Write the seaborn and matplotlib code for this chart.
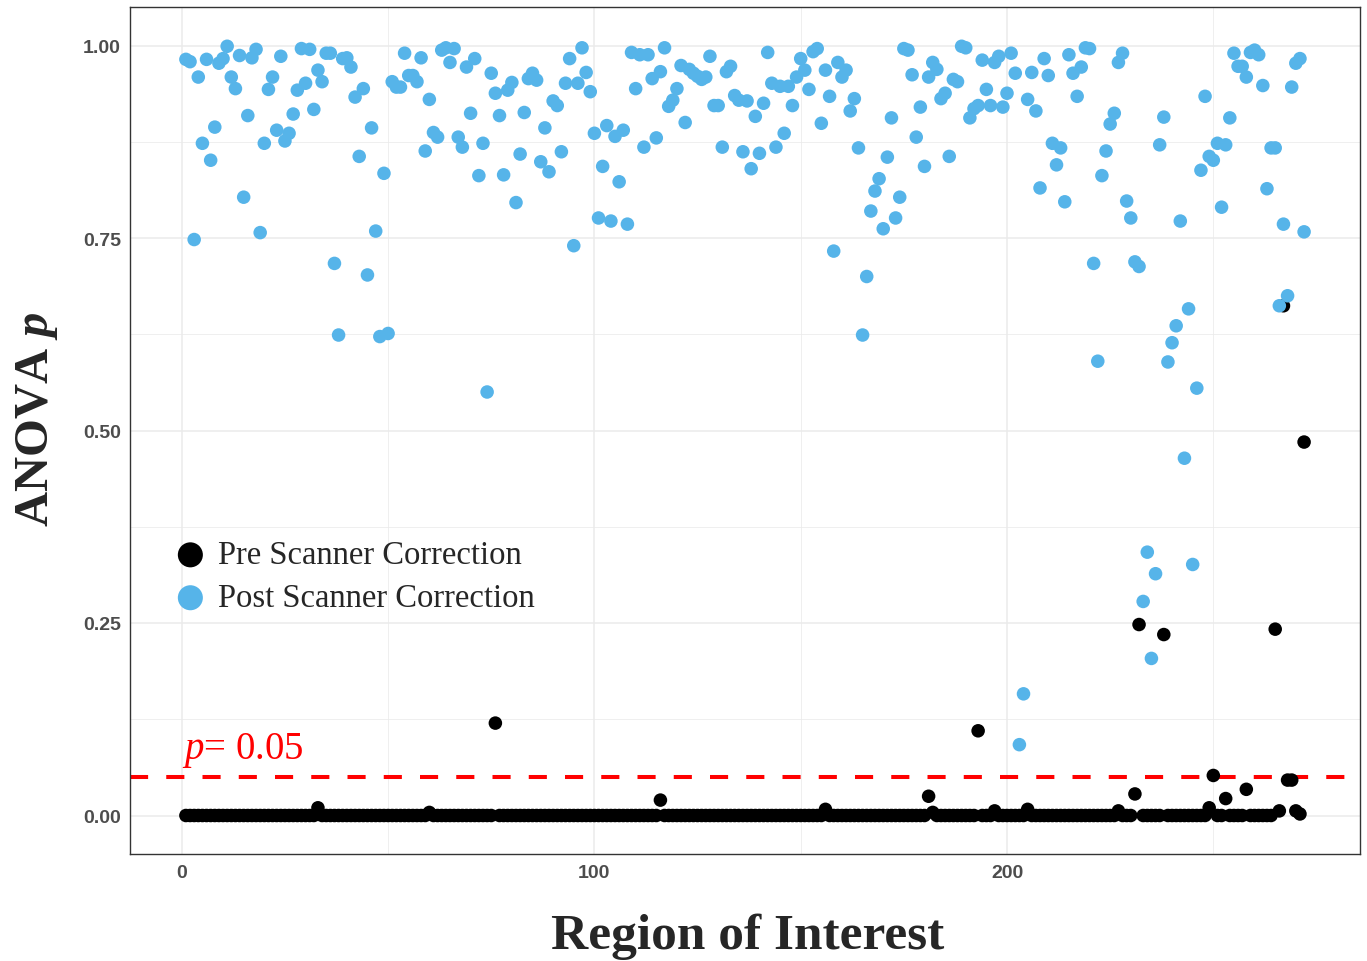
import matplotlib as mpl
import matplotlib.pyplot as plt
import numpy as np
import pandas as pd
import seaborn as sns

# ANOVA p per region (regions 1..272, 16 per row)
post_p = [
    0.982, 0.979, 0.748, 0.959, 0.873, 0.982, 0.851, 0.894, 0.977, 0.983, 0.999, 0.959, 0.944, 0.987, 0.803, 0.909,
    0.984, 0.995, 0.757, 0.873, 0.943, 0.959, 0.890, 0.986, 0.876, 0.886, 0.911, 0.942, 0.996, 0.951, 0.995, 0.917,
    0.968, 0.953, 0.990, 0.990, 0.717, 0.624, 0.983, 0.984, 0.972, 0.933, 0.856, 0.944, 0.702, 0.893, 0.759, 0.622,
    0.834, 0.626, 0.953, 0.946, 0.946, 0.990, 0.961, 0.961, 0.953, 0.984, 0.863, 0.930, 0.887, 0.881, 0.994, 0.997,
    0.978, 0.996, 0.881, 0.868, 0.972, 0.912, 0.983, 0.831, 0.873, 0.550, 0.964, 0.938, 0.909, 0.832, 0.942, 0.952,
    0.796, 0.859, 0.913, 0.957, 0.964, 0.955, 0.849, 0.893, 0.836, 0.928, 0.922, 0.862, 0.951, 0.983, 0.740, 0.951,
    0.997, 0.965, 0.940, 0.886, 0.776, 0.843, 0.896, 0.772, 0.882, 0.823, 0.890, 0.768, 0.991, 0.944, 0.988, 0.868,
    0.988, 0.957, 0.880, 0.966, 0.997, 0.921, 0.929, 0.944, 0.974, 0.900, 0.969, 0.964, 0.960, 0.956, 0.959, 0.986,
    0.922, 0.922, 0.868, 0.966, 0.973, 0.935, 0.929, 0.862, 0.928, 0.840, 0.908, 0.860, 0.925, 0.991, 0.951, 0.868,
    0.947, 0.886, 0.947, 0.922, 0.959, 0.983, 0.968, 0.943, 0.992, 0.996, 0.899, 0.968, 0.934, 0.733, 0.978, 0.959,
    0.968, 0.915, 0.931, 0.867, 0.624, 0.700, 0.785, 0.811, 0.827, 0.762, 0.855, 0.906, 0.776, 0.803, 0.996, 0.994,
    0.962, 0.881, 0.920, 0.843, 0.959, 0.978, 0.969, 0.931, 0.938, 0.856, 0.956, 0.953, 0.999, 0.997, 0.906, 0.918,
    0.922, 0.981, 0.943, 0.922, 0.978, 0.986, 0.920, 0.938, 0.990, 0.964, 0.092, 0.158, 0.930, 0.965, 0.915, 0.815,
    0.983, 0.961, 0.873, 0.845, 0.867, 0.797, 0.988, 0.964, 0.934, 0.972, 0.997, 0.996, 0.717, 0.590, 0.831, 0.863,
    0.898, 0.912, 0.978, 0.990, 0.798, 0.776, 0.719, 0.713, 0.278, 0.342, 0.204, 0.314, 0.871, 0.907, 0.589, 0.614,
    0.636, 0.772, 0.464, 0.658, 0.326, 0.555, 0.838, 0.934, 0.856, 0.851, 0.873, 0.790, 0.871, 0.906, 0.990, 0.973,
    0.973, 0.959, 0.991, 0.994, 0.988, 0.948, 0.814, 0.867, 0.867, 0.662, 0.768, 0.675, 0.946, 0.977, 0.983, 0.758,
]

pre_p = [
    0, 0, 0, 0, 0, 0, 0, 0, 0, 0, 0, 0, 0, 0, 0, 0,
    0, 0, 0, 0, 0, 0, 0, 0, 0, 0, 0, 0, 0, 0, 0, 0,
    0.010, 0, 0, 0, 0, 0, 0, 0, 0, 0, 0, 0, 0, 0, 0, 0,
    0, 0, 0, 0, 0, 0, 0, 0, 0, 0, 0, 0.004, 0, 0, 0, 0,
    0, 0, 0, 0, 0, 0, 0, 0, 0, 0, 0, 0.120, 0, 0, 0, 0,
    0, 0, 0, 0, 0, 0, 0, 0, 0, 0, 0, 0, 0, 0, 0, 0,
    0, 0, 0, 0, 0, 0, 0, 0, 0, 0, 0, 0, 0, 0, 0, 0,
    0, 0, 0, 0.020, 0, 0, 0, 0, 0, 0, 0, 0, 0, 0, 0, 0,
    0, 0, 0, 0, 0, 0, 0, 0, 0, 0, 0, 0, 0, 0, 0, 0,
    0, 0, 0, 0, 0, 0, 0, 0, 0, 0, 0, 0.008, 0, 0, 0, 0,
    0, 0, 0, 0, 0, 0, 0, 0, 0, 0, 0, 0, 0, 0, 0, 0,
    0, 0, 0, 0, 0.025, 0.004, 0, 0, 0, 0, 0, 0, 0, 0, 0, 0,
    0.110, 0, 0, 0, 0.006, 0, 0, 0, 0, 0, 0, 0, 0.008, 0, 0, 0,
    0, 0, 0, 0, 0, 0, 0, 0, 0, 0, 0, 0, 0, 0, 0, 0,
    0, 0, 0.006, 0, 0, 0, 0.028, 0.248, 0, 0, 0, 0, 0, 0.235, 0, 0,
    0, 0, 0, 0, 0, 0, 0, 0, 0.010, 0.052, 0, 0, 0.022, 0, 0, 0,
    0, 0.034, 0, 0, 0, 0, 0, 0, 0.242, 0.006, 0.662, 0.046, 0.046, 0.006, 0.002, 0.485,
]

roi = np.arange(1, len(post_p) + 1)
labels = ['Pre Scanner Correction', 'Post Scanner Correction']
colors = {'Pre Scanner Correction': 'black', 'Post Scanner Correction': '#56B4E9'}
x_ticks = [0, 100, 200]
y_ticks = [0.0, 0.25, 0.5, 0.75, 1.0]
p_cut = 0.05

df = pd.DataFrame({
    'roi': np.concatenate([roi, roi]),
    'p': pre_p + post_p,
    'Condition': [labels[0]] * len(pre_p) + [labels[1]] * len(post_p),
})

sns.set_style('white')
plt.rcParams['font.family'] = ['Liberation Serif', 'DejaVu Serif']
plt.rcParams['mathtext.fontset'] = 'custom'
plt.rcParams['mathtext.rm'] = 'Liberation Serif'
plt.rcParams['mathtext.it'] = 'Liberation Serif:italic'
plt.rcParams['mathtext.bf'] = 'Liberation Serif:bold'
plt.rcParams['mathtext.bfit'] = 'Liberation Serif:italic:bold'

fig, ax = plt.subplots(figsize=(13.67, 9.62), dpi=100)
fig.subplots_adjust(left=130/1367, right=1360/1367, top=1-8/962, bottom=1-855/962)

for lab in labels:
    sns.scatterplot(data=df[df['Condition'] == lab], x='roi', y='p', color=colors[lab],
                    s=95, linewidth=0, edgecolor='none', label=lab, ax=ax, zorder=3)

ax.axhline(p_cut, color='red', lw=2.9, ls=(0, (4.5, 4.5)), zorder=2)
ax.text(0, 0.075, r'$\mathit{p}$= 0.05', color='red', fontsize=28, ha='left', va='baseline')

# ggplot-like limits (5% expansion)
xr = roi.max() - roi.min()
ax.set_xlim(roi.min() - 0.05 * xr, roi.max() + 0.05 * xr)
ax.set_ylim(-0.05, 1.05)

ax.set_xticks(x_ticks)
ax.set_xticks([50, 150, 250], minor=True)
ax.set_yticks(y_ticks)
ax.set_yticks([0.125, 0.375, 0.625, 0.875], minor=True)
ax.set_yticklabels([f'{t:.2f}' for t in y_ticks])
ax.grid(which='major', color='#EBEBEB', lw=1.1)
ax.grid(which='minor', color='#EBEBEB', lw=0.55)
ax.set_axisbelow(True)

for sp in ax.spines.values():
    sp.set_visible(True)
    sp.set_color('#333333')
    sp.set_linewidth(1.0)

ax.tick_params(which='major', length=3.5, width=1, color='#333333', labelcolor='#4D4D4D', labelsize=14)
ax.tick_params(axis='x', pad=4)
ax.tick_params(axis='y', pad=3)
ax.tick_params(which='minor', length=0)
for lbl in ax.get_xticklabels() + ax.get_yticklabels():
    lbl.set_fontfamily('Liberation Sans')
    lbl.set_fontweight('bold')

ax.set_xlabel('Region of Interest', fontsize=37, fontweight='bold')
ax.set_ylabel(r'ANOVA $\mathbfit{p}$', fontsize=35, fontweight='bold')
ax.xaxis.set_label_coords(0.502, -0.069)
ax.yaxis.set_label_coords(-0.057, 0.514)

ax.legend(loc='center left', bbox_to_anchor=(0.0358, 0.3275), frameon=False, fontsize=23.5,
          handlelength=1.0, handletextpad=0.35, labelspacing=0.38, borderpad=0,
          borderaxespad=0, markerscale=1.85)

plt.savefig('out.png', dpi=100)
